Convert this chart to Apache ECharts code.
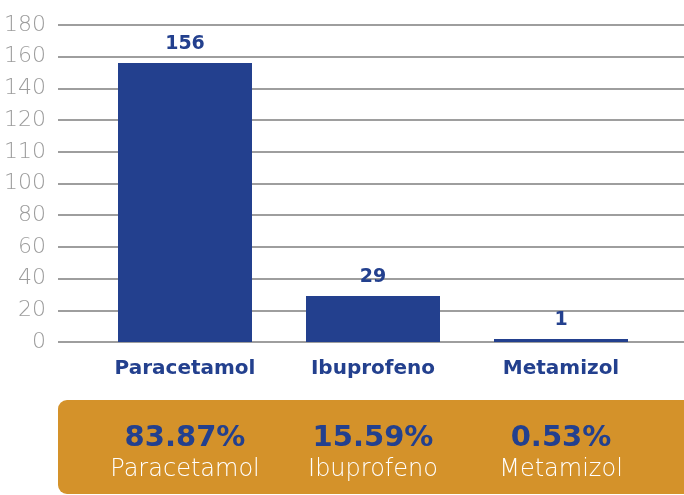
<!DOCTYPE html>
<html><head><meta charset="utf-8">
<script src="https://cdn.jsdelivr.net/npm/echarts@6/dist/echarts.min.js"></script>
<style>html,body{margin:0;padding:0;background:#fff}#c{width:684px;height:495px}</style>
</head><body><div id="c"></div>
<script>
const categories = ['Paracetamol', 'Ibuprofeno', 'Metamizol'];
const values = [156, 29, 1];
const percentLabels = ['83.87%', '15.59%', '0.53%'];
const tickLabels = [0, 20, 40, 60, 80, 100, 110, 120, 140, 160, 180];

// piecewise position of a value on the (non-linear) tick scale
function tickPos(v) {
  for (let i = 0; i < tickLabels.length - 1; i++) {
    if (v >= tickLabels[i] && v <= tickLabels[i + 1]) {
      return i + (v - tickLabels[i]) / (tickLabels[i + 1] - tickLabels[i]);
    }
  }
  return tickLabels.length - 1;
}

const BLUE = '#23408e';
const chart = echarts.init(document.getElementById('c'));
chart.setOption({
  animation: false,
  graphic: {
    elements: [{
      type: 'rect', z: -10, silent: true,
      shape: { x: 58, y: 400, width: 640, height: 94, r: 9 },
      style: { fill: '#d4922a' }
    }]
  },
  grid: [
    { left: 58, right: 0, top: 25, height: 317 },
    { left: 91, width: 564, top: 25, height: 317 }
  ],
  xAxis: [
    { gridIndex: 0, type: 'category', data: categories, show: false },
    {
      gridIndex: 1, type: 'category', data: categories,
      axisLine: { show: false }, axisTick: { show: false },
      axisLabel: { interval: 0, hideOverlap: false, margin: 17, color: BLUE, fontFamily: 'DejaVu Sans', fontWeight: 'bold', fontSize: 20 }
    },
    {
      gridIndex: 1, type: 'category', data: categories, position: 'bottom', offset: 80,
      axisLine: { show: false }, axisTick: { show: false },
      axisLabel: {
        interval: 0, hideOverlap: false,
        margin: 0,
        formatter: (v, i) => '{p|' + percentLabels[i] + '}\n{n|' + v + '}',
        rich: {
          p: { color: BLUE, fontFamily: 'DejaVu Sans', fontWeight: 'bold', fontSize: 29, lineHeight: 32 },
          n: { color: '#ffffff', fontFamily: 'DejaVu Sans', fontWeight: 200, fontSize: 24, lineHeight: 31 }
        }
      }
    }
  ],
  yAxis: [
    {
      gridIndex: 0, type: 'value', min: 0, max: tickLabels.length - 1, interval: 1,
      axisLine: { show: false }, axisTick: { show: false },
      axisLabel: { margin: 12, color: '#9c9c9c', fontFamily: 'DejaVu Sans', fontWeight: 200, fontSize: 22,
        formatter: v => String(tickLabels[v]) },
      splitLine: { lineStyle: { color: '#9e9e9e', width: 2 } }
    },
    { gridIndex: 1, type: 'value', min: 0, max: tickLabels.length - 1, show: false }
  ],
  series: [{
    type: 'bar', xAxisIndex: 1, yAxisIndex: 1,
    data: values.map(v => tickPos(v)),
    barWidth: 134, barMinHeight: 3,
    itemStyle: { color: BLUE },
    label: {
      show: true, position: 'top', distance: 9, color: BLUE,
      fontFamily: 'DejaVu Sans', fontWeight: 'bold', fontSize: 19,
      formatter: p => String(values[p.dataIndex])
    }
  }]
});
</script></body></html>
